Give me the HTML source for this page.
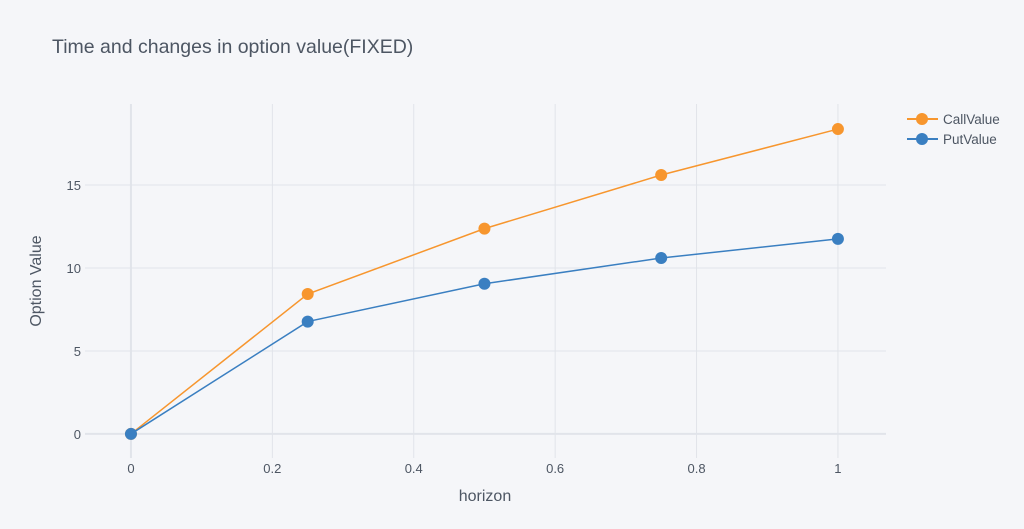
<!DOCTYPE html>
<html><head><meta charset="utf-8"><style>
body{margin:0;background:#f5f6f9;font-family:"Liberation Sans",sans-serif}
svg text{font-family:"Liberation Sans",sans-serif}
</style></head><body>
<svg id="c" width="1024" height="524" xmlns="http://www.w3.org/2000/svg">
<rect width="1024" height="524" fill="#f5f6f9"/>
<text x="52" y="53" font-size="19.5" fill="#4d5663">Time and changes in option value(FIXED)</text>
<g id="grid"></g><g id="series"></g>
<text x="485" y="501" font-size="16" fill="#4d5663" text-anchor="middle">horizon</text>
<text transform="translate(41,281) rotate(-90)" font-size="16" fill="#4d5663" text-anchor="middle">Option Value</text>
<g>
<g><line x1="907" y1="119" x2="938" y2="119" stroke="#f7962e" stroke-width="2"/><circle cx="922" cy="119" r="6" fill="#f7962e"/><text x="943" y="124" font-size="13.5" fill="#4d5663">CallValue</text></g>
<g><line x1="907" y1="139" x2="938" y2="139" stroke="#3a7fc1" stroke-width="2"/><circle cx="922" cy="139" r="6" fill="#3a7fc1"/><text x="943" y="144" font-size="13.5" fill="#4d5663">PutValue</text></g>
</g>
</svg>
<script>
const xs=[0,0.25,0.5,0.75,1];
const callValues=[0,8.43,12.37,15.6,18.37];
const putValues=[0,6.77,9.05,10.6,11.75];
const xTicks=[0,0.2,0.4,0.6,0.8,1];
const xTickLabels=["0","0.2","0.4","0.6","0.8","1"];
const yTicks=[0,5,10,15];
const L=85,R=886,T=104,B=458,x0=-0.065,x1=1.068,y0=-1.45,y1=19.88;
const X=v=>L+(v-x0)/(x1-x0)*(R-L);
const Y=v=>B-(v-y0)/(y1-y0)*(B-T);
const NS="http://www.w3.org/2000/svg";
function mk(t,a,p){const e=document.createElementNS(NS,t);for(const k in a)e.setAttribute(k,a[k]);p.appendChild(e);return e;}
const g=document.getElementById('grid'),s=document.getElementById('series');
xTicks.forEach((v,i)=>{
 const l=mk('line',{x1:X(v),x2:X(v),y1:T,y2:B,stroke:'#e1e4ea','stroke-width':v===0?2:1},g);
 
 
 const t=mk('text',{x:X(v),y:B+15,'font-size':13,fill:'#4d5663','text-anchor':'middle'},g);t.textContent=xTickLabels[i];
 
 
});
yTicks.forEach(v=>{
 const l=mk('line',{x1:L,x2:R,y1:Y(v),y2:Y(v),stroke:'#e1e4ea','stroke-width':v===0?2:1},g);
 
 
 const t=mk('text',{x:L-4,y:Y(v)+5,'font-size':13,fill:'#4d5663','text-anchor':'end'},g);t.textContent=v;
 
 
});
[[callValues,'#f7962e','callvalue'],[putValues,'#3a7fc1','putvalue']].forEach(([vals,col,n])=>{
 const p=mk('polyline',{points:xs.map((x,i)=>X(x)+','+Y(vals[i])).join(' '),fill:'none',stroke:col,'stroke-width':1.5},s);
 
 
 xs.forEach((x,i)=>{const c=mk('circle',{cx:X(x),cy:Y(vals[i]),r:6,fill:col},s);
 
 });
});
</script>
</body></html>
